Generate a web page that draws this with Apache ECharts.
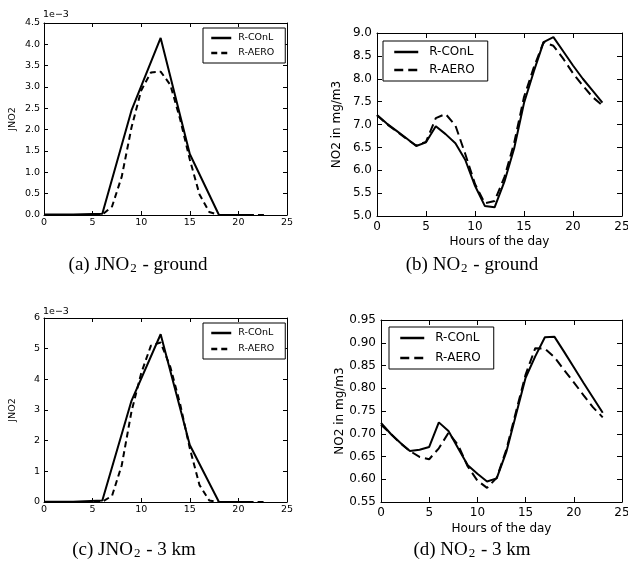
<!DOCTYPE html>
<html>
<head>
<meta charset="utf-8">
<script src="https://cdn.jsdelivr.net/npm/echarts@6/dist/echarts.min.js"></script>
<style>
  html, body { margin: 0; padding: 0; background: #fff; }
  #chart { width: 628px; height: 570px; }
</style>
</head>
<body>
<div id="chart"></div>
<script>
// Hours of the day at which each run was sampled
const hoursEvery3 = [0, 3, 6, 9, 12, 15, 18, 21];
const hoursHourly = [0, 1, 2, 3, 4, 5, 6, 7, 8, 9, 10, 11, 12, 13, 14, 15, 16, 17, 18, 19, 20, 21, 22, 23];

const seriesNames = ['R-COnL', 'R-AERO'];

// (a) JNO2 at ground level, in units of 1e-3
const jno2GroundCOnL = [0.01, 0.01, 0.03, 2.45, 4.15, 1.43, 0.0, 0.0];
const jno2GroundAERO = [0, 0, 0, 0, 0, 0, 0.01, 0.2, 0.9, 2.05, 2.92, 3.34, 3.36, 3.05, 2.25, 1.3, 0.48, 0.07, 0, 0, 0, 0, 0, 0];

// (b) NO2 at ground level, mg/m3
const no2GroundCOnL = [7.21, 7.02, 6.86, 6.7, 6.53, 6.61, 6.96, 6.79, 6.59, 6.23, 5.66, 5.22, 5.19, 5.75, 6.48, 7.47, 8.16, 8.8, 8.91, 8.6, 8.29, 8.0, 7.74, 7.48];
const no2GroundAERO = [7.2, 7.01, 6.85, 6.69, 6.54, 6.62, 7.14, 7.23, 6.98, 6.36, 5.7, 5.28, 5.33, 5.85, 6.6, 7.6, 8.25, 8.8, 8.72, 8.44, 8.12, 7.85, 7.6, 7.42];

// (c) JNO2 at 3 km, in units of 1e-3
const jno2KmCOnL = [0.01, 0.01, 0.05, 3.3, 5.47, 1.86, 0.0, 0.0];
const jno2KmAERO = [0, 0, 0, 0, 0, 0, 0.01, 0.2, 1.2, 2.95, 4.2, 5.1, 5.2, 4.4, 3.2, 1.75, 0.55, 0.05, 0, 0, 0, 0, 0, 0];

// (d) NO2 at 3 km, mg/m3
const no2KmCOnL = [0.724, 0.70, 0.68, 0.662, 0.665, 0.671, 0.725, 0.706, 0.668, 0.631, 0.612, 0.595, 0.602, 0.66, 0.742, 0.823, 0.87, 0.912, 0.913, 0.88, 0.846, 0.812, 0.779, 0.746];
const no2KmAERO = [0.72, 0.70, 0.679, 0.662, 0.649, 0.644, 0.668, 0.702, 0.675, 0.628, 0.597, 0.581, 0.603, 0.665, 0.748, 0.83, 0.888, 0.887, 0.868, 0.84, 0.813, 0.785, 0.758, 0.736];

// Axis ranges: [min, max, interval, decimals]
const hourAxis = [0, 25, 5, 0];
const jno2GroundAxis = [0, 4.5, 0.5, 1];
const no2GroundAxis = [5, 9, 0.5, 1];
const jno2KmAxis = [0, 6, 1, 0];
const no2KmAxis = [0.55, 0.95, 0.05, 2];

const captions = [
  ['(a) JNO', '2', ' - ground'],
  ['(b) NO', '2', ' - ground'],
  ['(c) JNO', '2', ' - 3 km'],
  ['(d) NO', '2', ' - 3 km']
];

const SANS = 'DejaVu Sans';
const SERIF = 'Liberation Serif';
const INK = '#000';
const CLEAR = 'rgba(0,0,0,0)';

// Panel layout and styling
const panels = [
  { grid: { left: 44, top: 23, width: 243, height: 192 }, y: jno2GroundAxis, font: 9.5, tick: 4, xMargin: 3, yMargin: 4,
    yName: 'JNO2', yGap: 26, xName: '', dash: [6, 4],
    x3: hoursEvery3, conl: jno2GroundCOnL, aero: jno2GroundAERO,
    legend: { left: 203, top: 28, padding: [5, 11, 5, 7], itemWidth: 20, itemHeight: 10, itemGap: 5, textPad: 2 },
    caption: { x: 138, y: 264 } },
  { grid: { left: 377, top: 33, width: 245, height: 183 }, y: no2GroundAxis, font: 12, tick: 5, xMargin: 5, yMargin: 5,
    yName: 'NO2 in mg/m3', yGap: 34, xName: 'Hours of the day', xGap: 20, dash: [9, 5],
    x3: hoursHourly, conl: no2GroundCOnL, aero: no2GroundAERO,
    legend: { left: 383, top: 41, padding: [5, 13, 5, 10], itemWidth: 24, itemHeight: 14, itemGap: 6, textPad: 6 },
    caption: { x: 472, y: 264 } },
  { grid: { left: 44, top: 318, width: 243, height: 184 }, y: jno2KmAxis, font: 9.5, tick: 4, xMargin: 3, yMargin: 4,
    yName: 'JNO2', yGap: 26, xName: '', dash: [6, 4],
    x3: hoursEvery3, conl: jno2KmCOnL, aero: jno2KmAERO,
    legend: { left: 203, top: 323, padding: [5, 11, 5, 7], itemWidth: 20, itemHeight: 10, itemGap: 6, textPad: 2 },
    caption: { x: 134, y: 549 } },
  { grid: { left: 381, top: 320, width: 241, height: 182 }, y: no2KmAxis, font: 12, tick: 5, xMargin: 5, yMargin: 5,
    yName: 'NO2 in mg/m3', yGap: 34, xName: 'Hours of the day', xGap: 21, dash: [9, 5],
    x3: hoursHourly, conl: no2KmCOnL, aero: no2KmAERO,
    legend: { left: 389, top: 327, padding: [5, 13, 5, 10], itemWidth: 24, itemHeight: 14, itemGap: 8, textPad: 6 },
    caption: { x: 472, y: 549 } }
];

function fmt(decimals) {
  return function (v) { return Number(v).toFixed(decimals); };
}

function makeAxis(range, gridIndex, p, kind, position, withLabels) {
  const isX = kind === 'x';
  const ax = {
    type: 'value',
    gridIndex: gridIndex,
    position: position,
    min: range[0],
    max: range[1],
    interval: range[2],
    splitLine: { show: false },
    axisLine: { show: true, onZero: false, lineStyle: { color: INK, width: 1 } },
    axisTick: { show: true, inside: true, length: p.tick, lineStyle: { color: INK, width: 1 } },
    axisLabel: {
      show: withLabels,
      color: INK,
      fontFamily: SANS,
      fontSize: p.font,
      margin: isX ? p.xMargin : p.yMargin,
      showMinLabel: true,
      showMaxLabel: true,
      hideOverlap: false,
      formatter: fmt(range[3])
    }
  };
  if (withLabels) {
    const name = isX ? p.xName : p.yName;
    if (name) {
      ax.name = name;
      ax.nameLocation = 'middle';
      ax.nameGap = isX ? p.xGap : p.yGap;
      ax.nameTextStyle = { color: INK, fontFamily: SANS, fontSize: p.font };
    }
  }
  return ax;
}

const grids = [], xAxes = [], yAxes = [], series = [], legends = [], graphics = [];

panels.forEach(function (p, i) {
  grids.push(Object.assign({ outerBoundsMode: 'none', containLabel: false }, p.grid));
  // bottom/left axes carry the labels, top/right only mirror the ticks
  xAxes.push(makeAxis(hourAxis, i, p, 'x', 'bottom', true));
  xAxes.push(makeAxis(hourAxis, i, p, 'x', 'top', false));
  yAxes.push(makeAxis(p.y, i, p, 'y', 'left', true));
  yAxes.push(makeAxis(p.y, i, p, 'y', 'right', false));

  series.push({
    name: seriesNames[0], type: 'line', xAxisIndex: 2 * i, yAxisIndex: 2 * i,
    data: p.x3.map(function (h, k) { return [h, p.conl[k]]; }),
    symbol: 'none', silent: true, animation: false,
    itemStyle: { color: INK },
    lineStyle: { color: INK, width: 2, type: 'solid' }
  });
  series.push({
    name: seriesNames[1], type: 'line', xAxisIndex: 2 * i, yAxisIndex: 2 * i,
    data: hoursHourly.map(function (h, k) { return [h, p.aero[k]]; }),
    symbol: 'none', silent: true, animation: false,
    itemStyle: { color: INK },
    lineStyle: { color: INK, width: 2, type: p.dash }
  });

  // legend keys show only the line sample, no marker
  const L = p.legend;
  const keyMarker = { color: CLEAR, borderColor: CLEAR, borderWidth: 0, opacity: 0 };
  legends.push({
    orient: 'vertical', left: L.left, top: L.top, padding: L.padding,
    itemWidth: L.itemWidth, itemHeight: L.itemHeight, itemGap: L.itemGap,
    borderColor: INK, borderWidth: 1, borderRadius: 0, backgroundColor: '#fff',
    selectedMode: false,
    itemStyle: keyMarker,
    textStyle: { color: INK, fontFamily: SANS, fontSize: p.font, padding: [0, 0, 0, L.textPad] },
    data: [
      { name: seriesNames[0], itemStyle: keyMarker, lineStyle: { color: INK, width: 2.5, type: 'solid', opacity: 1 } },
      { name: seriesNames[1], itemStyle: keyMarker, lineStyle: { color: INK, width: 2.5, type: p.dash, opacity: 1 } }
    ]
  });

  const c = captions[i];
  graphics.push({
    type: 'text', x: p.caption.x, y: p.caption.y, silent: true,
    style: {
      text: '{n|' + c[0] + '}{s|' + c[1] + '}{n|' + c[2] + '}',
      align: 'center', verticalAlign: 'middle',
      rich: {
        n: { fontFamily: SERIF, fontSize: 19, fill: INK, lineHeight: 22, verticalAlign: 'bottom' },
        s: { fontFamily: SERIF, fontSize: 13, fill: INK, lineHeight: 13, verticalAlign: 'bottom', padding: [0, 1, 0, 1] }
      }
    }
  });
});

// Scale factor markers above the JNO2 panels
graphics.push({ type: 'text', x: 43, y: 20, silent: true,
  style: { text: '1e\u22123', fontFamily: SANS, fontSize: 9.5, fill: INK, align: 'left', verticalAlign: 'bottom' } });
graphics.push({ type: 'text', x: 43, y: 317, silent: true,
  style: { text: '1e\u22123', fontFamily: SANS, fontSize: 9.5, fill: INK, align: 'left', verticalAlign: 'bottom' } });

const chart = echarts.init(document.getElementById('chart'), null, { renderer: 'canvas', width: 628, height: 570 });
chart.setOption({
  backgroundColor: '#fff',
  animation: false,
  textStyle: { fontFamily: SANS, color: INK },
  grid: grids,
  xAxis: xAxes,
  yAxis: yAxes,
  legend: legends,
  series: series,
  graphic: graphics
});
</script>
</body>
</html>
